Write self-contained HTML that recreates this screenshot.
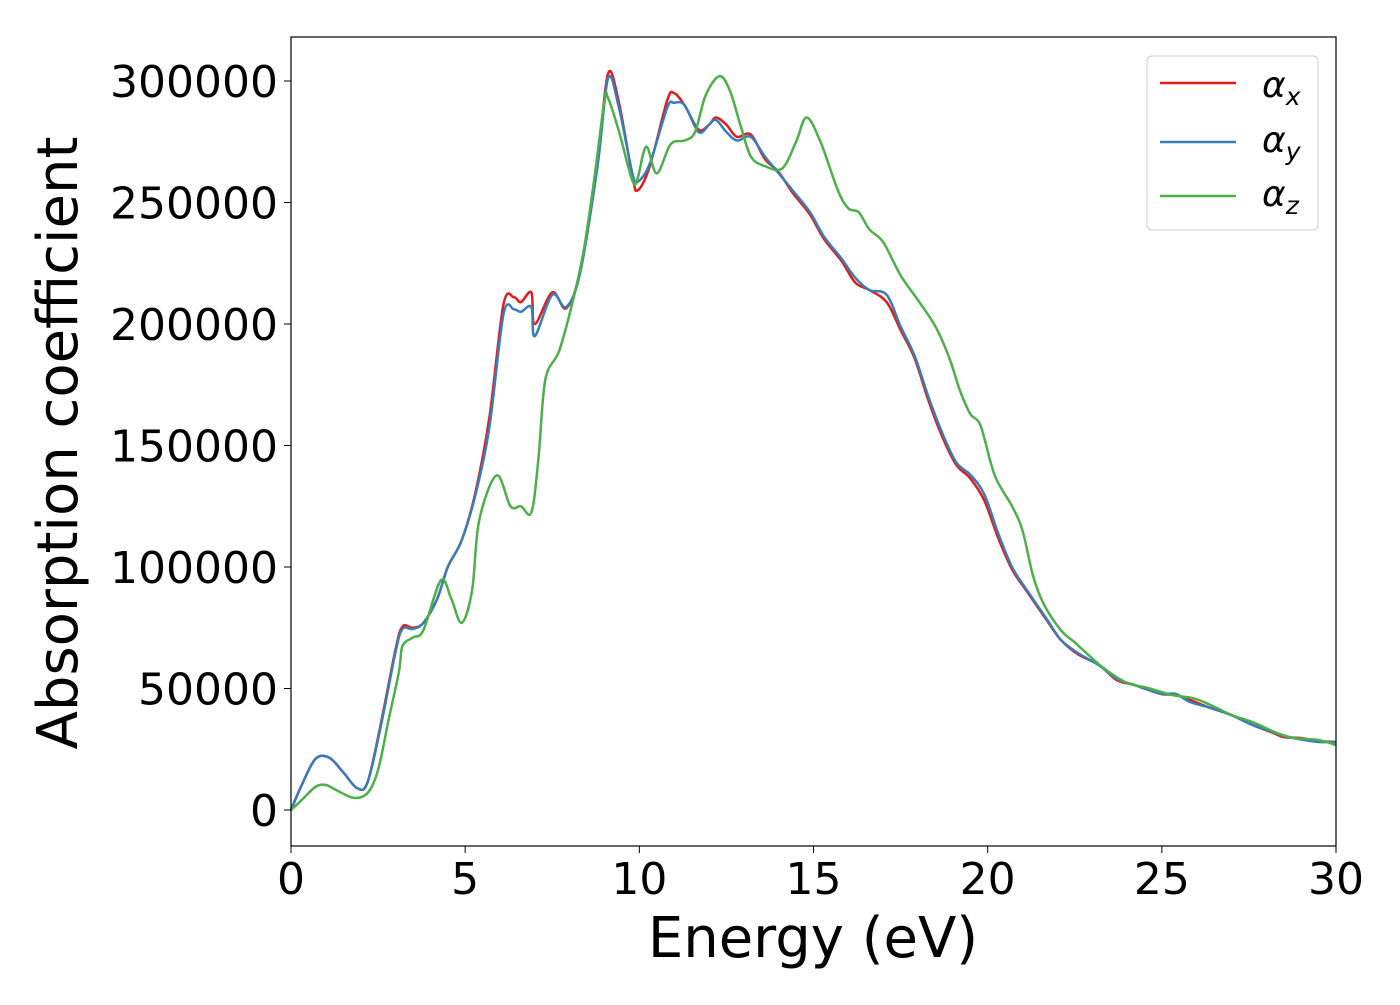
<!DOCTYPE html>
<html><head><meta charset="utf-8"><style>
body{margin:0;background:#fff;}
svg text{font-family:"DejaVu Sans","Liberation Sans",sans-serif;fill:#000;}
</style></head><body>
<svg id="chart" width="1400" height="1000" xmlns="http://www.w3.org/2000/svg">
<rect width="1400" height="1000" fill="#fff"/>
<g id="series"></g>
<g id="axes"></g>
<rect x="291" y="37" width="1045" height="809" fill="none" stroke="#000" stroke-width="1.2"/>
<text x="813" y="957" font-size="56" text-anchor="middle">Energy (eV)</text>
<text transform="translate(77,443) rotate(-90)" font-size="56" text-anchor="middle">Absorption coefficient</text>
<g>
<rect x="1147" y="56" width="171" height="174" rx="5" fill="#fff" stroke="#ccc"/>
<line x1="1160" y1="83" x2="1236" y2="83" stroke="#e41a1c" stroke-width="2.5"/>
<line x1="1160" y1="142" x2="1236" y2="142" stroke="#377eb8" stroke-width="2.5"/>
<line x1="1160" y1="196" x2="1236" y2="196" stroke="#4daf4a" stroke-width="2.5"/>
<text x="1262" y="97" font-size="36" font-style="italic">α<tspan font-size="25" dy="8">x</tspan></text>
<text x="1262" y="152" font-size="36" font-style="italic">α<tspan font-size="25" dy="8">y</tspan></text>
<text x="1262" y="206" font-size="36" font-style="italic">α<tspan font-size="25" dy="8">z</tspan></text>
</g>
</svg>
<script>
const energyX=[0,0.3,0.7,1.1,1.5,1.9,2.2,2.6,3.0,3.2,3.5,3.8,4.2,4.5,4.9,5.3,5.7,6.1,6.4,6.6,6.9,7.0,7.5,7.9,8.3,8.8,9.1,9.4,9.8,9.95,10.3,10.8,11.0,11.3,11.7,12.0,12.2,12.5,12.8,13.2,13.6,14.0,14.4,14.9,15.3,15.8,16.2,16.6,17.1,17.5,17.9,18.3,18.7,19.1,19.5,19.9,20.3,20.7,21.1,21.7,22.1,22.6,23.2,23.7,24.2,24.6,25.0,25.4,25.8,26.4,27.0,27.6,28.2,28.5,29.0,29.5,30];
const alphaX=[0,10000,21000,21500,15500,9000,11500,37000,66000,75500,75000,77000,87000,100000,111000,131000,162000,208000,211000,209000,213000,200000,213000,206500,222000,267000,303000,292000,261000,255000,265000,292000,295000,290000,280000,282000,285000,282000,277000,278000,268000,262500,254000,245000,235000,226000,217000,214000,209000,197500,186000,168500,153500,142000,136500,127500,112000,99000,90500,78000,70000,64000,59700,53500,51500,49500,47700,47300,45300,42000,39100,35000,31700,30000,29600,28400,28000];
const alphaY=[0,10000,21000,21500,15500,9000,11500,36000,65000,74500,74500,77000,87000,100000,111000,130000,158000,204000,206000,205000,207000,195000,212000,207000,221000,265000,301000,290000,262000,258500,266000,289000,291000,290000,279000,282000,284000,279000,275500,277000,269000,262000,255000,246000,236000,227000,219000,214000,212000,199000,187000,170000,155000,143000,138000,130000,114000,100000,91000,78500,70000,64500,59500,54000,51500,49500,47700,47800,44500,42000,39000,35000,32000,30500,29000,28000,28000];
const energyZ=[0,0.3,0.7,1.0,1.3,1.8,2.2,2.5,2.8,3.1,3.2,3.5,3.8,4.3,4.6,4.9,5.2,5.4,5.9,6.3,6.6,6.9,7.1,7.3,7.7,8.1,8.4,8.7,9.0,9.1,9.4,9.8,9.95,10.2,10.5,10.9,11.3,11.6,11.9,12.3,12.6,12.9,13.2,13.6,14.1,14.5,14.8,15.2,15.7,16.0,16.3,16.6,17.0,17.5,18.0,18.5,18.9,19.2,19.5,19.8,20.2,20.7,21.0,21.3,21.6,22.1,22.5,22.9,23.4,24.0,24.6,25.3,25.9,26.4,27.0,27.6,28.3,28.8,29.5,30];
const alphaZ=[0,4000,9500,10300,8200,5000,7000,16500,37000,57000,67500,71000,74000,94500,87000,77000,90500,119000,137700,125000,125000,122500,144000,177000,189000,210000,230000,259000,292000,293000,280000,259000,260000,273000,262000,274000,275500,279000,294000,302000,296000,282000,269000,265000,264000,275000,285000,275000,255000,247600,246000,239000,233700,220000,209800,199000,186000,172800,163000,158000,137800,125000,115000,96500,85000,74000,69000,63700,57600,52300,50200,47300,46000,43200,39100,36200,31700,29600,28800,26700];
const xTicks=[0,5,10,15,20,25,30];
const yTicks=[0,50000,100000,150000,200000,250000,300000];

const X0=291,X1=1336,Y0=810,Y300=81;
const xs=e=>X0+(X1-X0)*e/30;
const ys=v=>Y0-(Y0-Y300)*v/300000;
const NS="http://www.w3.org/2000/svg";
function pathFor(ex,vals){
  const p=ex.map((e,i)=>[xs(e),ys(vals[i])]);
  let d=`M${p[0][0]},${p[0][1]}`;
  for(let i=0;i<p.length-1;i++){
    const a=p[i-1]||p[i],b=p[i],c=p[i+1],n=p[i+2]||c;
    const c1=[b[0]+(c[0]-a[0])/6,b[1]+(c[1]-a[1])/6];
    const c2=[c[0]-(n[0]-b[0])/6,c[1]-(n[1]-b[1])/6];
    d+=` C${c1[0]},${c1[1]} ${c2[0]},${c2[1]} ${c[0]},${c[1]}`;
  }
  return d;
}
const sg=document.getElementById('series');
[[energyX,alphaX,'#e41a1c','series-alpha-x'],[energyX,alphaY,'#377eb8','series-alpha-y'],[energyZ,alphaZ,'#4daf4a','series-alpha-z']].forEach(s=>{
  const el=document.createElementNS(NS,'path');
  el.setAttribute('d',pathFor(s[0],s[1]));
  el.setAttribute('fill','none');el.setAttribute('stroke',s[2]);el.setAttribute('stroke-width','2.5');
  
  
  sg.appendChild(el);
});
const ag=document.getElementById('axes');
xTicks.forEach(t=>{
  const l=document.createElementNS(NS,'line');
  l.setAttribute('x1',xs(t));l.setAttribute('x2',xs(t));l.setAttribute('y1',846);l.setAttribute('y2',853);l.setAttribute('stroke','#000');
  
  
  ag.appendChild(l);
  const tx=document.createElementNS(NS,'text');
  tx.setAttribute('x',xs(t));tx.setAttribute('y',894);tx.setAttribute('font-size','44');tx.setAttribute('text-anchor','middle');
  tx.textContent=t;
  
  
  ag.appendChild(tx);
});
yTicks.forEach(t=>{
  const l=document.createElementNS(NS,'line');
  l.setAttribute('x1',284);l.setAttribute('x2',291);l.setAttribute('y1',ys(t));l.setAttribute('y2',ys(t));l.setAttribute('stroke','#000');
  
  
  ag.appendChild(l);
  const tx=document.createElementNS(NS,'text');
  tx.setAttribute('x',278);tx.setAttribute('y',ys(t)+16);tx.setAttribute('font-size','44');tx.setAttribute('text-anchor','end');
  tx.textContent=t;
  
  
  ag.appendChild(tx);
});
</script>
</body></html>
